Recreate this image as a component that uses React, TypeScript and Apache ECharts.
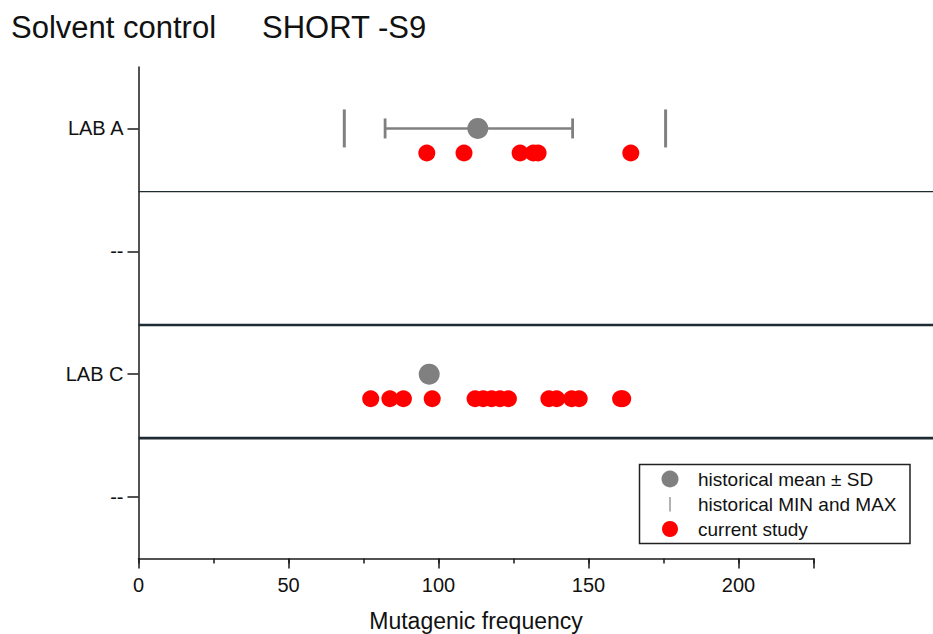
import React, { useEffect, useRef } from 'react';
import * as echarts from 'echarts';

// ---- data ----
const categories = ['LAB A', '--', 'LAB C', '--'];
const historicalMean: (number | null)[] = [113.1, null, 96.9, null];
const historicalSdLow: (number | null)[] = [82.2, null, null, null];
const historicalSdHigh: (number | null)[] = [144.7, null, null, null];
const historicalMin: (number | null)[] = [68.6, null, null, null];
const historicalMax: (number | null)[] = [175.7, null, null, null];
const currentStudyLabA = [96.1, 108.5, 127.2, 131.6, 133.2, 164.1];
const currentStudyLabC = [
  77.4, 83.8, 88.3, 97.9, 112.2, 114.9, 117.7, 120.5, 123.3, 136.8, 139.4, 144.4, 146.9, 160.7, 161.4,
];
const currentStudy: number[][] = [currentStudyLabA, [], currentStudyLabC, []];
const xMin = 0;
const xMax = 225;
const xMinorInterval = 25;
const xMajorInterval = 50;

const legendNames = ['historical mean \u00b1 SD', 'historical MIN and MAX', 'current study'];

// ---- layout / style constants ----
const FONT = "'Liberation Sans', Arial, Helvetica, sans-serif";
const GRAY = '#808080';
const RED = '#ff0000';
const DARK = '#111111';
const ROW_OFFSET = 0.2; // current-study row sits below the category centre
const separators = [
  { pos: 0.515, width: 1.3 },
  { pos: 1.6, width: 2.6 },
  { pos: 2.52, width: 2.6 },
];
const GRID = { left: 138.5, top: 67, width: 675, height: 491.5, containLabel: false, outerBoundsMode: 'none' };

function buildOption() {
  const sdLine: any[] = [];
  const sdCaps: number[][] = [];
  const minMax: number[][] = [];
  const means: number[][] = [];
  const current: number[][] = [];
  categories.forEach((_, i) => {
    const lo = historicalSdLow[i];
    const hi = historicalSdHigh[i];
    if (lo != null && hi != null) {
      sdLine.push([lo, i], [hi, i], '-');
      sdCaps.push([lo, i], [hi, i]);
    }
    const mn = historicalMin[i];
    const mx = historicalMax[i];
    if (mn != null) minMax.push([mn, i]);
    if (mx != null) minMax.push([mx, i]);
    const m = historicalMean[i];
    if (m != null) means.push([m, i]);
    currentStudy[i].forEach((v) => current.push([v, i + ROW_OFFSET]));
  });

  const axisColor = '#1a1a1a';
  const titleStyle = { fontFamily: FONT, fontSize: 31, fontWeight: 'normal', color: DARK };
  return {
    animation: false,
    backgroundColor: '#ffffff',
    textStyle: { fontFamily: FONT },
    title: [
      { text: 'Solvent control', left: 6, top: 7, textStyle: titleStyle },
      { text: 'SHORT -S9', left: 257, top: 7, textStyle: titleStyle },
    ],
    grid: [{ ...GRID }, { ...GRID }],
    xAxis: [
      {
        type: 'value',
        gridIndex: 0,
        min: xMin,
        max: xMax,
        interval: xMinorInterval,
        axisLine: { show: true, onZero: false, lineStyle: { color: axisColor, width: 1.5 } },
        axisTick: { show: true, length: 5, lineStyle: { color: axisColor, width: 1.5 } },
        axisLabel: {
          fontSize: 20,
          color: DARK,
          fontFamily: FONT,
          margin: 16,
          formatter: (v: number) => (v % xMajorInterval === 0 ? String(v) : ''),
        },
        splitLine: { show: false },
        name: 'Mutagenic frequency',
        nameLocation: 'middle',
        nameGap: 51,
        nameTextStyle: { fontSize: 23, color: DARK, fontFamily: FONT },
      },
      {
        type: 'value',
        gridIndex: 1,
        min: xMin,
        max: xMax,
        interval: xMajorInterval,
        position: 'bottom',
        axisLine: { show: false, onZero: false },
        axisTick: { show: true, length: 10, lineStyle: { color: axisColor, width: 1.5 } },
        axisLabel: { show: false },
        splitLine: { show: false },
      },
    ],
    yAxis: [
      {
        type: 'category',
        gridIndex: 0,
        data: categories,
        inverse: true,
        axisLine: { show: true, onZero: false, lineStyle: { color: axisColor, width: 1.5 } },
        axisTick: { show: true, alignWithLabel: true, length: 11, lineStyle: { color: axisColor, width: 1.5 } },
        axisLabel: { fontSize: 20, color: DARK, fontFamily: FONT, margin: 15 },
        splitLine: { show: false },
      },
      {
        type: 'value',
        gridIndex: 0,
        min: -0.5,
        max: categories.length - 0.5,
        inverse: true,
        show: false,
      },
      {
        type: 'value',
        gridIndex: 1,
        min: -0.5,
        max: categories.length - 0.5,
        inverse: true,
        show: false,
      },
    ],
    series: [
      {
        name: 'SD range',
        type: 'line',
        xAxisIndex: 0,
        yAxisIndex: 1,
        data: sdLine,
        symbol: 'none',
        lineStyle: { color: GRAY, width: 2.5 },
        z: 2,
      },
      {
        name: 'SD caps',
        type: 'scatter',
        xAxisIndex: 0,
        yAxisIndex: 1,
        data: sdCaps,
        symbol: 'rect',
        symbolSize: [2.8, 20],
        itemStyle: { color: GRAY, opacity: 1 },
        z: 2,
      },
      {
        name: legendNames[1],
        type: 'scatter',
        xAxisIndex: 0,
        yAxisIndex: 1,
        data: minMax,
        symbol: 'rect',
        symbolSize: [3, 38],
        itemStyle: { color: GRAY, opacity: 1 },
        z: 2,
      },
      {
        name: legendNames[0],
        type: 'scatter',
        xAxisIndex: 0,
        yAxisIndex: 1,
        data: means,
        symbol: 'circle',
        symbolSize: 21,
        itemStyle: { color: GRAY, opacity: 1 },
        z: 3,
      },
      {
        name: legendNames[2],
        type: 'scatter',
        xAxisIndex: 0,
        yAxisIndex: 1,
        data: current,
        symbol: 'circle',
        symbolSize: 17,
        itemStyle: { color: RED, opacity: 1 },
        z: 4,
      },
    ],
  };
}

export default function App() {
  const ref = useRef<HTMLDivElement>(null);
  useEffect(() => {
    const el = ref.current;
    if (!el) return;
    document.body.style.margin = '0';
    const chart = echarts.init(el, null, { renderer: 'svg' });
    chart.setOption(buildOption() as any);

    const x0 = chart.convertToPixel({ xAxisIndex: 0 } as any, xMin) as unknown as number;
    const W = chart.getWidth();
    const sepGraphics = separators.map((s) => {
      const y = chart.convertToPixel({ yAxisIndex: 1 } as any, s.pos) as unknown as number;
      return {
        type: 'line',
        z: 1,
        shape: { x1: x0, y1: y, x2: W, y2: y },
        style: { stroke: '#1e2b33', lineWidth: s.width },
      };
    });

    const rowY = [479, 504, 529];
    const legendGraphics: any[] = [
      {
        type: 'rect',
        z: 10,
        shape: { x: 639.5, y: 464.5, width: 270.5, height: 79 },
        style: { fill: '#ffffff', stroke: '#222', lineWidth: 1.5 },
      },
      { type: 'circle', z: 11, shape: { cx: 670, cy: rowY[0], r: 8.5 }, style: { fill: GRAY } },
      {
        type: 'line',
        z: 11,
        shape: { x1: 670, y1: rowY[1] - 7, x2: 670, y2: rowY[1] + 7.5 },
        style: { stroke: '#999', lineWidth: 1.5 },
      },
      { type: 'circle', z: 11, shape: { cx: 670, cy: rowY[2], r: 8 }, style: { fill: RED } },
      ...legendNames.map((t, i) => ({
        type: 'text',
        z: 11,
        x: 698,
        y: rowY[i],
        style: { text: t, fill: DARK, font: `19px ${FONT}`, verticalAlign: 'middle', align: 'left' },
      })),
    ];

    chart.setOption({ graphic: [...sepGraphics, ...legendGraphics] } as any);
    return () => chart.dispose();
  }, []);

  return (
    <div
      ref={ref}
      style={{ position: 'absolute', left: 0, top: 0, width: 933, height: 634, background: '#fff' }}
    />
  );
}
